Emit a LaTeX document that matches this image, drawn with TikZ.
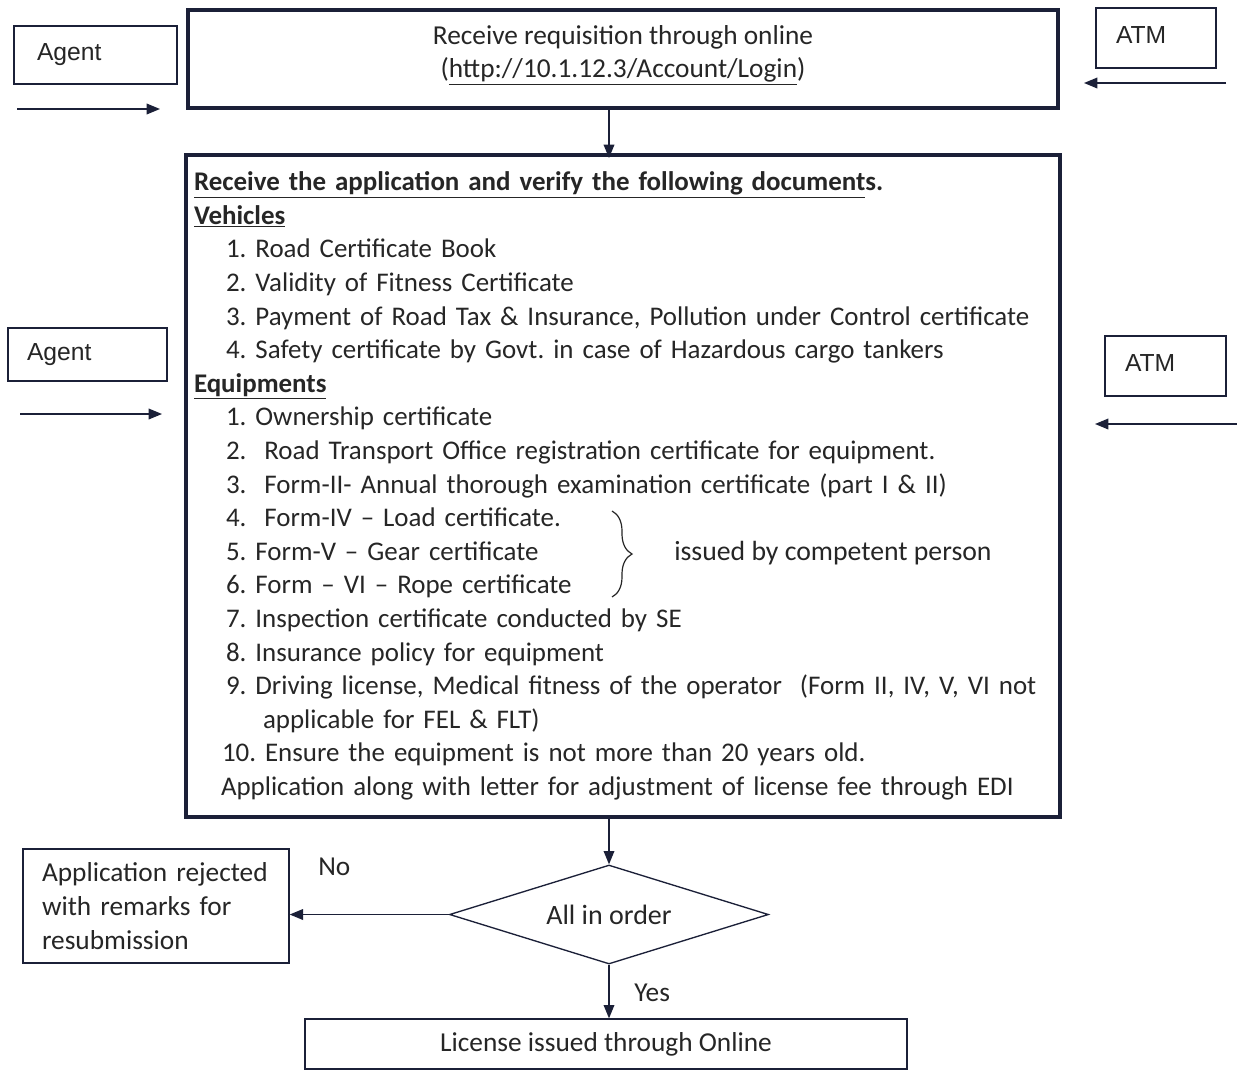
\documentclass[tikz,border=0pt]{standalone}
\usepackage{fontspec}
\setmainfont{Carlito}
\newfontfamily\arialf{Liberation Sans}
\usetikzlibrary{arrows.meta,shapes.geometric,decorations.pathreplacing}
\newdimen\pxu \pxu=0.75pt
\definecolor{ink}{HTML}{1B2038}
\definecolor{txt}{HTML}{262626}
\frenchspacing
\begin{document}
\begin{tikzpicture}[x=0.75pt,y=-0.75pt,
  thinbox/.style={draw=ink,line width=1pt,fill=white,text=txt},
  thickbox/.style={draw=ink,line width=3pt,text=txt},
  sidebox/.style={thinbox,font=\arialf\fontsize{18.5}{21}\selectfont,align=left,inner ysep=0pt},
  mainfont/.style={font=\frenchspacing\fontsize{20.5}{25.2}\selectfont},
  arr/.style={draw=ink,line width=1pt,-{Triangle[length=10pt,width=8pt]}},
  lbl/.style={text=txt,inner sep=0pt,mainfont}
]
\useasboundingbox[fill=white] (0,0) rectangle (1237,1071);

% side boxes
\node[sidebox,minimum height=58\pxu,inner xsep=23\pxu,text width=117\pxu] (agent1) at (95.5,55) {Agent};
\node[sidebox,minimum height=60\pxu,inner xsep=20\pxu,text width=80\pxu] (atm1) at (1156,38) {ATM\\[-16.5pt]\mbox{}};
\node[sidebox,minimum height=53\pxu,inner xsep=19\pxu,text width=121\pxu] (agent2) at (87.5,354.5) {Agent};
\node[sidebox,minimum height=60\pxu,inner xsep=20\pxu,text width=81\pxu] (atm2) at (1165.5,366) {ATM\\[-16.5pt]\mbox{}};

\coordinate (a1s) at (17,109);  \coordinate (a1e) at (160,109);
\coordinate (a2s) at (20,414);  \coordinate (a2e) at (162,414);
\coordinate (t1s) at (1226,83); \coordinate (t1e) at (1084,83);
\coordinate (t2s) at (1237,424);\coordinate (t2e) at (1095,424);
\draw[arr] (a1s) -- (a1e);
\draw[arr] (a2s) -- (a2e);
\draw[arr] (t1s) -- (t1e);
\draw[arr] (t2s) -- (t2e);

% top box
\node[thickbox,mainfont,align=center,minimum width=870\pxu,minimum height=98\pxu] (top) at (623,59)
  {Receive requisition through online\\(\underline{http://10.1.12.3/Account/Login})\\[-14pt]\mbox{}};

% main box
\node[thickbox,font=\frenchspacing\fontsize{20.2}{25.2}\selectfont,align=left,inner xsep=8\pxu,text width=858\pxu,minimum height=662\pxu] (main) at (623,486)
  {\textbf{\underline{Receive the application and verify the following document}s.}\\
   \textbf{\underline{Vehicles}}\\
   \hspace*{32\pxu}1. Road Certificate Book\\
   \hspace*{32\pxu}2. Validity of Fitness Certificate\\
   \hspace*{32\pxu}3. Payment of Road Tax \& Insurance, Pollution under Control certificate\\
   \hspace*{32\pxu}4. Safety certificate by Govt. in case of Hazardous cargo tankers\\
   \textbf{\underline{Equipments}}\\
   \hspace*{32\pxu}1. Ownership certificate\\
   \hspace*{32\pxu}2.\ \ Road Transport Office registration certificate for equipment.\\
   \hspace*{32\pxu}3.\ \ Form-II- Annual thorough examination certificate (part I \& II)\\
   \hspace*{32\pxu}4.\ \ Form-IV -- Load certificate.\\
   \hspace*{32\pxu}5. Form-V -- Gear certificate\\
   \hspace*{32\pxu}6. Form -- VI -- Rope certificate\\
   \hspace*{32\pxu}7. Inspection certificate conducted by SE\\
   \hspace*{32\pxu}8. Insurance policy for equipment\\
   \hspace*{32\pxu}9. Driving license, Medical fitness of the operator\ \ (Form II, IV, V, VI not\\
   \hspace*{69\pxu}applicable for FEL \& FLT)\\
   \hspace*{28\pxu}10. Ensure the equipment is not more than 20 years old.\\
   \hspace*{27\pxu}Application along with letter for adjustment of license fee through EDI};

% brace + note
\draw[draw=txt,line width=0.9pt,decorate,decoration={brace,amplitude=15pt}] (612,511) -- (612,597);
\node[lbl,anchor=west,font=\fontsize{20.8}{25}\selectfont] (issued) at (674,553) {issued by competent person};

% decision
\node[draw=ink,line width=1pt,diamond,aspect=3.22,inner sep=0pt,minimum width=319\pxu,minimum height=99\pxu,text=txt,font=\fontsize{21}{25}\selectfont] (dia) at (609,914.5) {All in order};

\node[thinbox,mainfont,align=left,inner xsep=19\pxu,text width=228\pxu,minimum height=114\pxu] (rej) at (156,906) {Application rejected\\with remarks for\\resubmission};

\node[thinbox,mainfont,minimum width=602\pxu,minimum height=50\pxu] (lic) at (606,1044) {License issued through Online};

\draw[arr] (top.south -| dia.north) -- ([yshift=-5\pxu]main.north -| dia.north);
\draw[arr] (main.south -| dia.north) -- (dia.north);
\draw[arr] (dia.west) -- (dia.west -| rej.east);
\draw[arr] (dia.south) -- (dia.south |- lic.north);
\node[lbl,anchor=west] (no) at (318,867) {No};
\node[lbl,anchor=west] (yes) at (634,993) {Yes};
\end{tikzpicture}
\end{document}
